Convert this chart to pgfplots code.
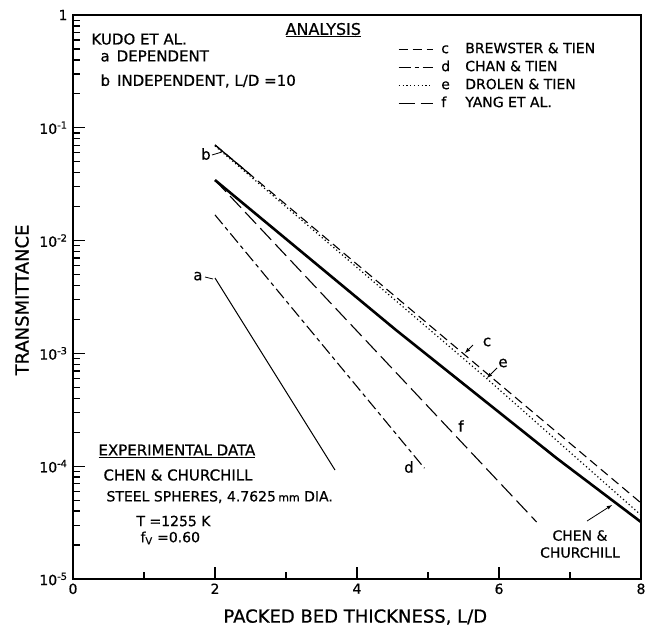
\documentclass[border=0pt]{standalone}
\usepackage{fontspec}
\setmainfont{DejaVu Sans}[BoldFont=DejaVu Sans, BoldFeatures={FakeBold=0.6}]
\usepackage{pgfplots}
\pgfplotsset{compat=1.18}
\newcommand{\fs}[1]{\fontsize{#1}{#1}\selectfont\bfseries}
\begin{document}
\begin{tikzpicture}
\begin{axis}[
  scale only axis, width=568pt, height=564pt,
  xmin=0, xmax=8, ymin=1e-5, ymax=1, ymode=log,
  clip=false,
  axis line style={line width=1.6pt},
  tick style={line width=1.3pt, black},
  tick align=inside, tick pos=left,
  xtick={0,2,4,6,8}, xticklabels={0,2,4,6,8}, minor xtick={1,3,5,7},
  major tick length=12pt, minor tick length=7pt,
  xticklabel style={font=\fs{14}, yshift=-1pt},
  ytick={1e-5,1e-4,1e-3,1e-2,1e-1,1},
  yticklabels={10\textsuperscript{-5},10\textsuperscript{-4},10\textsuperscript{-3},10\textsuperscript{-2},10\textsuperscript{-1},1},
  yticklabel style={font=\fs{14}, xshift=-2pt},
  legend style={at={(rel axis cs:0.572,0.954)}, anchor=north west, draw=none, fill=none,
    font=\fs{14}, row sep=2pt, inner sep=0pt,
    nodes={text height=10pt, text depth=2pt, inner sep=2pt}},
  legend cell align=left,
  legend image code/.code={\draw[#1] (0pt,0pt) -- (34pt,0pt);},
]
% a: Kudo dependent
\addplot[black, line width=1pt, forget plot] coordinates {(2,4.66e-3) (3.69,9.25e-5)};
% b: Kudo independent
\addplot[black, line width=1.2pt, forget plot] coordinates {(2,0.0705) (2.5,0.0383)};
% c: Brewster & Tien
\addplot[black, line width=1.1pt, dash pattern=on 9pt off 5pt] coordinates {(2,0.0705) (8,4.72e-5)};
\addlegendentry{\makebox[30pt][l]{\hspace{6pt}c}BREWSTER \& TIEN}
% d: Chan & Tien
\addplot[black, line width=1.1pt, dash pattern=on 12pt off 4pt on 4pt off 4pt] coordinates {(2,0.0169) (4.95,9.6e-5)};
\addlegendentry{\makebox[30pt][l]{\hspace{6pt}d}CHAN \& TIEN}
% e: Drolen & Tien
\addplot[black, line width=1.2pt, dash pattern=on 1.2pt off 2.6pt] coordinates {(2,0.069) (5.8,6.2e-4) (8,3.69e-5)};
\addlegendentry{\makebox[30pt][l]{\hspace{6pt}e}DROLEN \& TIEN}
% f: Yang et al.
\addplot[black, line width=1.1pt, dash pattern=on 16pt off 6pt] coordinates {(2,0.0344) (6.53,3.2e-5)};
\addlegendentry{\makebox[30pt][l]{\hspace{6pt}f}YANG ET AL.}
% Chen & Churchill experimental
\addplot[black, line width=2.6pt, forget plot] coordinates {(2,0.0344) (2.9,0.01167) (4.55,1.61e-3) (6.81,1.18e-4) (8,3.2e-5)};

% annotations
\node[anchor=west, font=\fs{15}] at (rel axis cs:0.0264,0.9574) {KUDO ET AL.};
\node[anchor=west, font=\fs{15}] at (rel axis cs:0.0423,0.9273) {a\hspace{7pt}DEPENDENT};
\node[anchor=west, font=\fs{15}] at (rel axis cs:0.0423,0.8830) {b\hspace{7pt}INDEPENDENT, L/D =10};
\node[anchor=west, font=\fs{16}] at (rel axis cs:0.368,0.9734) {\underline{ANALYSIS}};

\node[anchor=west, font=\fs{15}] at (rel axis cs:0.0387,0.227) {\underline{EXPERIMENTAL DATA}};
\node[anchor=west, font=\fs{15}] at (rel axis cs:0.0475,0.1844) {CHEN \& CHURCHILL};
\node[anchor=west, font=\fs{14}] at (rel axis cs:0.0528,0.1454) {STEEL SPHERES, 4.7625\,{\fs{11}mm} DIA.};
\node[anchor=west, font=\fs{14}] at (rel axis cs:0.1056,0.1028) {T =1255 K};
\node[anchor=west, font=\fs{14}] at (rel axis cs:0.1127,0.0727) {f\textsubscript{V} =0.60};

\node[align=center, font=\fs{14}] at (rel axis cs:0.8926,0.062) {CHEN \&\\[3pt]CHURCHILL};
\draw[-latex, line width=0.8pt] (rel axis cs:0.905,0.1028) -- (rel axis cs:0.949,0.1312);

\node[font=\fs{15}] at (rel axis cs:0.234,0.7535) {b};
\draw[line width=0.8pt] (rel axis cs:0.2447,0.7518) -- (rel axis cs:0.2623,0.7571);
\node[font=\fs{15}] at (rel axis cs:0.220,0.537) {a};
\draw[line width=0.8pt] (rel axis cs:0.2324,0.5355) -- (rel axis cs:0.2465,0.5319);
\node[font=\fs{15}] at (rel axis cs:0.5915,0.1986) {d};
\node[font=\fs{15}] at (rel axis cs:0.683,0.2713) {f};
\node[font=\fs{15}] at (rel axis cs:0.7289,0.4202) {c};
\draw[-latex, line width=0.8pt] (rel axis cs:0.7042,0.4149) -- (rel axis cs:0.6901,0.4007);
\node[font=\fs{15}] at (rel axis cs:0.757,0.383) {e};
\draw[-latex, line width=0.8pt] (rel axis cs:0.7465,0.3741) -- (rel axis cs:0.7289,0.3564);

\node[rotate=90, font=\fs{18}] at (rel axis cs:-0.0898,0.4947) {TRANSMITTANCE};
\node[font=\fs{18}] at (rel axis cs:0.497,-0.0674) {PACKED BED THICKNESS, L/D};
\end{axis}
\pgfresetboundingbox
\path[use as bounding box] ([xshift=-73pt,yshift=-49pt]current axis.south west) rectangle ([xshift=11pt,yshift=15pt]current axis.north east);
\end{tikzpicture}
\end{document}
